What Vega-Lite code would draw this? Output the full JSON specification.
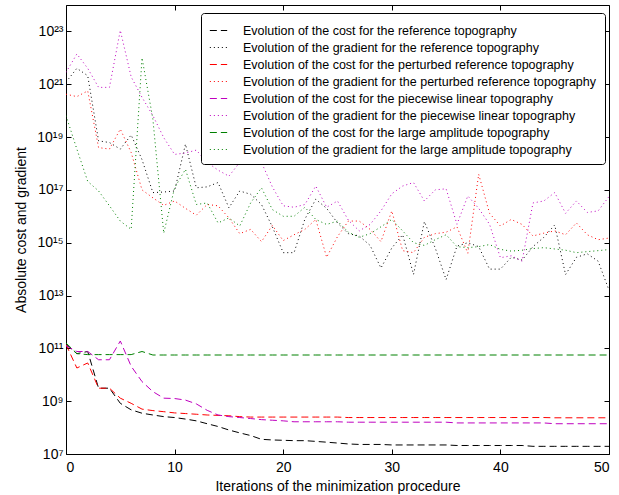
{
"$schema": "https://vega.github.io/schema/vega-lite/v6.json",
"width": 543, "height": 449,
"autosize": "none",
"padding": {"left": 66, "top": 5, "right": 10, "bottom": 41},
"config": {"font": "Liberation Sans", "view": {"stroke": "#000", "strokeWidth": 1},
  "axis": {"grid": false, "domain": false, "tickColor": "#000", "tickSize": -5, "labelColor": "#000", "labelFontSize": 14, "titleFontSize": 14, "titleFontWeight": "normal", "titleColor": "#000", "labelFont": "Liberation Sans", "titleFont": "Liberation Sans"}},
"data": {"values": [
{"i":0,"bc":1.4e11,"bg":1.2e21,"rc":1.4e11,"rg":4.2e20,"mc":1.26e11,"mg":2.8e21,"gc":1.6e11,"gg":6.5e19},
{"i":1,"bc":6.3e10,"bg":4.0e21,"rc":1.8e10,"rg":3.4e20,"mc":7.6e10,"mg":1.4e22,"gc":6.3e10,"gg":3.5e18},
{"i":2,"bc":7.6e10,"bg":2.1e21,"rc":2.8e10,"rg":5.6e20,"mc":7.6e10,"mg":4.0e21,"gc":5.8e10,"gg":2.1e17},
{"i":3,"bc":3.1e9,"bg":7.2e18,"rc":3.1e9,"rg":4.0e18,"mc":3.7e10,"mg":7.6e20,"gc":5.8e10,"gg":9.1e16},
{"i":4,"bc":3.1e9,"bg":6.2e18,"rc":3.1e9,"rg":3.5e18,"mc":3.7e10,"mg":7.6e20,"gc":5.8e10,"gg":2.5e16},
{"i":5,"bc":8.3e8,"bg":3.5e18,"rc":1.3e9,"rg":2.0e19,"mc":1.9e11,"mg":1.1e23,"gc":5.8e10,"gg":6.6e15},
{"i":6,"bc":4.7e8,"bg":1.2e19,"rc":8.3e8,"rg":2.6e18,"mc":2.1e10,"mg":1.9e21,"gc":5.8e10,"gg":3.2e15},
{"i":7,"bc":3.5e8,"bg":1.4e18,"rc":5.0e8,"rg":1.0e17,"mc":5.5e9,"mg":3.2e20,"gc":7.6e10,"gg":1.0e22},
{"i":8,"bc":3.0e8,"bg":7.9e16,"rc":4.4e8,"rg":5.0e16,"mc":2.3e9,"mg":6.5e19,"gc":5.6e10,"gg":4.8e19},
{"i":9,"bc":2.6e8,"bg":8.3e16,"rc":4.0e8,"rg":2.6e16,"mc":1.3e9,"mg":9.5e18,"gc":5.6e10,"gg":2.3e15},
{"i":10,"bc":2.4e8,"bg":9.1e16,"rc":3.6e8,"rg":3.8e16,"mc":1.26e9,"mg":2.2e18,"gc":5.6e10,"gg":1.2e17},
{"i":11,"bc":2.1e8,"bg":5.4e18,"rc":3.4e8,"rg":2.0e16,"mc":1.1e9,"mg":2.5e18,"gc":5.6e10,"gg":6.0e17},
{"i":12,"bc":1.8e8,"bg":1.2e17,"rc":3.2e8,"rg":1.1e16,"mc":7.9e8,"mg":3.2e18,"gc":5.6e10,"gg":2.8e16},
{"i":13,"bc":1.4e8,"bg":1.3e17,"rc":3.0e8,"rg":2.8e16,"mc":4.5e8,"mg":1.1e18,"gc":5.6e10,"gg":3.2e16},
{"i":14,"bc":1.1e8,"bg":1.9e17,"rc":2.9e8,"rg":2.5e16,"mc":3.0e8,"mg":5.6e17,"gc":5.6e10,"gg":5.6e15},
{"i":15,"bc":8.1e7,"bg":2.1e16,"rc":2.8e8,"rg":8.7e15,"mc":2.6e8,"mg":3.3e17,"gc":5.6e10,"gg":8.7e15},
{"i":16,"bc":6.3e7,"bg":9.1e16,"rc":2.6e8,"rg":2.2e15,"mc":2.4e8,"mg":1.1e18,"gc":5.6e10,"gg":4.3e15},
{"i":17,"bc":5.0e7,"bg":6.8e16,"rc":2.5e8,"rg":3.2e15,"mc":2.2e8,"mg":2.0e18,"gc":5.6e10,"gg":3.2e16},
{"i":18,"bc":3.6e7,"bg":2.8e16,"rc":2.5e8,"rg":1.1e15,"mc":2.0e8,"mg":1.1e18,"gc":5.6e10,"gg":1.2e17},
{"i":19,"bc":3.4e7,"bg":4.0e15,"rc":2.5e8,"rg":4.5e15,"mc":1.9e8,"mg":1.3e17,"gc":5.6e10,"gg":1.8e16},
{"i":20,"bc":3.3e7,"bg":4.2e14,"rc":2.5e8,"rg":1.2e15,"mc":1.8e8,"mg":2.5e16,"gc":5.6e10,"gg":1.0e16},
{"i":21,"bc":3.2e7,"bg":4.2e14,"rc":2.5e8,"rg":2.0e15,"mc":1.66e8,"mg":2.2e16,"gc":5.6e10,"gg":1.0e16},
{"i":22,"bc":3.2e7,"bg":7.9e15,"rc":2.5e8,"rg":3.2e15,"mc":1.66e8,"mg":2.8e16,"gc":5.6e10,"gg":2.2e16},
{"i":23,"bc":3.0e7,"bg":4.4e16,"rc":2.5e8,"rg":7.6e15,"mc":1.66e8,"mg":1.4e17,"gc":5.6e10,"gg":7.6e15},
{"i":24,"bc":2.8e7,"bg":2.0e16,"rc":2.5e8,"rg":2.8e14,"mc":1.66e8,"mg":2.2e16,"gc":5.6e10,"gg":4.9e15},
{"i":25,"bc":2.6e7,"bg":5.6e15,"rc":2.5e8,"rg":1.7e15,"mc":1.66e8,"mg":3.8e16,"gc":5.6e10,"gg":6.6e15},
{"i":26,"bc":2.4e7,"bg":2.2e15,"rc":2.4e8,"rg":6.6e15,"mc":1.6e8,"mg":7.1e15,"gc":5.6e10,"gg":2.5e15},
{"i":27,"bc":2.3e7,"bg":1.8e15,"rc":2.4e8,"rg":6.6e15,"mc":1.6e8,"mg":2.8e15,"gc":5.6e10,"gg":1.6e15},
{"i":28,"bc":2.3e7,"bg":7.9e14,"rc":2.4e8,"rg":3.2e15,"mc":1.6e8,"mg":4.9e15,"gc":5.6e10,"gg":2.2e15},
{"i":29,"bc":2.3e7,"bg":1.1e14,"rc":2.4e8,"rg":1.1e15,"mc":1.6e8,"mg":1.6e16,"gc":5.6e10,"gg":4.0e15},
{"i":30,"bc":2.2e7,"bg":6.3e14,"rc":2.4e8,"rg":1.6e16,"mc":1.6e8,"mg":7.1e16,"gc":5.6e10,"gg":7.6e15},
{"i":31,"bc":2.2e7,"bg":2.0e15,"rc":2.4e8,"rg":5.0e14,"mc":1.6e8,"mg":1.4e17,"gc":5.6e10,"gg":2.8e15},
{"i":32,"bc":2.2e7,"bg":6.3e13,"rc":2.4e8,"rg":4.2e14,"mc":1.6e8,"mg":1.9e17,"gc":5.6e10,"gg":1.0e15},
{"i":33,"bc":2.2e7,"bg":6.3e15,"rc":2.4e8,"rg":1.6e15,"mc":1.6e8,"mg":3.8e16,"gc":5.6e10,"gg":7.9e14},
{"i":34,"bc":2.2e7,"bg":6.3e14,"rc":2.4e8,"rg":2.2e15,"mc":1.6e8,"mg":1.0e17,"gc":5.6e10,"gg":1.3e15},
{"i":35,"bc":2.2e7,"bg":4.0e13,"rc":2.4e8,"rg":2.5e15,"mc":1.6e8,"mg":1.1e17,"gc":5.6e10,"gg":2.0e15},
{"i":36,"bc":2.1e7,"bg":7.4e14,"rc":2.4e8,"rg":4.0e15,"mc":1.5e8,"mg":5.0e15,"gc":5.6e10,"gg":7.1e14},
{"i":37,"bc":2.1e7,"bg":1.0e15,"rc":2.4e8,"rg":4.0e14,"mc":1.5e8,"mg":5.9e16,"gc":5.6e10,"gg":6.5e14},
{"i":38,"bc":2.1e7,"bg":7.1e14,"rc":2.4e8,"rg":3.9e17,"mc":1.5e8,"mg":2.0e16,"gc":5.6e10,"gg":7.1e14},
{"i":39,"bc":2.1e7,"bg":1.0e14,"rc":2.4e8,"rg":1.3e16,"mc":1.5e8,"mg":5.0e15,"gc":5.6e10,"gg":8.5e14},
{"i":40,"bc":2.1e7,"bg":1.0e14,"rc":2.4e8,"rg":4.3e15,"mc":1.5e8,"mg":2.7e14,"gc":5.6e10,"gg":5.6e14},
{"i":41,"bc":2.1e7,"bg":2.8e14,"rc":2.4e8,"rg":7.6e15,"mc":1.5e8,"mg":3.2e14,"gc":5.6e10,"gg":4.8e14},
{"i":42,"bc":2.1e7,"bg":2.2e14,"rc":2.4e8,"rg":4.9e15,"mc":1.5e8,"mg":2.0e14,"gc":5.6e10,"gg":5.2e14},
{"i":43,"bc":1.95e7,"bg":7.1e14,"rc":2.4e8,"rg":1.8e15,"mc":1.5e8,"mg":3.2e16,"gc":5.6e10,"gg":6.0e14},
{"i":44,"bc":1.95e7,"bg":1.6e15,"rc":2.4e8,"rg":2.3e15,"mc":1.5e8,"mg":3.8e16,"gc":5.6e10,"gg":6.5e14},
{"i":45,"bc":1.95e7,"bg":4.7e15,"rc":2.35e8,"rg":2.8e15,"mc":1.4e8,"mg":7.9e16,"gc":5.6e10,"gg":5.8e14},
{"i":46,"bc":1.95e7,"bg":6.2e13,"rc":2.35e8,"rg":2.0e15,"mc":1.4e8,"mg":1.3e16,"gc":5.6e10,"gg":5.2e14},
{"i":47,"bc":1.95e7,"bg":2.8e14,"rc":2.35e8,"rg":5.6e15,"mc":1.4e8,"mg":3.8e16,"gc":5.6e10,"gg":4.2e14},
{"i":48,"bc":1.95e7,"bg":3.8e14,"rc":2.35e8,"rg":2.0e15,"mc":1.4e8,"mg":1.4e16,"gc":5.6e10,"gg":4.6e14},
{"i":49,"bc":1.95e7,"bg":2.0e14,"rc":2.35e8,"rg":1.3e15,"mc":1.4e8,"mg":1.6e16,"gc":5.6e10,"gg":5.0e14},
{"i":50,"bc":1.95e7,"bg":1.6e13,"rc":2.35e8,"rg":1.5e15,"mc":1.4e8,"mg":5.6e16,"gc":5.6e10,"gg":5.5e14}
]},
"transform": [{"fold": ["bc","bg","rc","rg","mc","mg","gc","gg"], "as": ["s","v"]}],
"layer": [
 {"mark": {"type": "line", "strokeWidth": 1, "clip": true},
  "encoding": {
   "x": {"field": "i", "type": "quantitative", "scale": {"domain": [0,50], "nice": false},
     "axis": {"orient": "bottom", "values": [0,10,20,30,40,50], "title": "Iterations of the minimization procedure", "labelPadding": 11, "titlePadding": 5}},
   "y": {"field": "v", "type": "quantitative", "scale": {"type": "log", "domain": [1e7,1e24], "nice": false},
     "axis": {"orient": "left", "values": [1e7,1e9,1e11,1e13,1e15,1e17,1e19,1e21,1e23], "title": "Absolute cost and gradient", "labelPadding": 8, "titlePadding": 8,
       "labelExpr": "'10' + (round(log(datum.value)/LN10) >= 10 ? substring('⁰¹²³⁴⁵⁶⁷⁸⁹', floor(round(log(datum.value)/LN10)/10), floor(round(log(datum.value)/LN10)/10)+1) : '') + substring('⁰¹²³⁴⁵⁶⁷⁸⁹', round(log(datum.value)/LN10)%10, round(log(datum.value)/LN10)%10+1)"}},
   "color": {"field": "s", "type": "nominal",
     "scale": {"domain": ["bc","bg","rc","rg","mc","mg","gc","gg"], "range": ["#000000","#000000","#ff0000","#ff0000","#bf00bf","#bf00bf","#008000","#008000"]},
     "legend": {"title": null, "orient": "none", "legendX": 135, "legendY": 8, "symbolType": "stroke", "symbolSize": 300, "symbolStrokeWidth": 1.2, "labelFontSize": 12.5, "labelFont": "Liberation Sans", "labelColor": "#000", "strokeColor": "#000", "fillColor": "#fff", "padding": 8, "cornerRadius": 3, "rowPadding": 1, "labelOffset": 15, "labelLimit": 0,
       "labelExpr": "datum.label == 'bc' ? 'Evolution of the cost for the reference topography' : datum.label == 'bg' ? 'Evolution of the gradient for the reference topography' : datum.label == 'rc' ? 'Evolution of the cost for the perturbed reference topography' : datum.label == 'rg' ? 'Evolution of the gradient for the perturbed reference topography' : datum.label == 'mc' ? 'Evolution of the cost for the piecewise linear topography' : datum.label == 'mg' ? 'Evolution of the gradient for the piecewise linear topography' : datum.label == 'gc' ? 'Evolution of the cost for the large amplitude topography' : 'Evolution of the gradient for the large amplitude topography'"}},
   "strokeDash": {"field": "s", "type": "nominal",
     "scale": {"domain": ["bc","bg","rc","rg","mc","mg","gc","gg"], "range": [[7,4],[1,3],[7,4],[1,3],[7,4],[1,3],[7,4],[1,3]]},
     "legend": {"title": null, "orient": "none", "legendX": 135, "legendY": 8, "symbolType": "stroke", "symbolSize": 300, "symbolStrokeWidth": 1.2, "labelFontSize": 12.5, "labelFont": "Liberation Sans", "labelColor": "#000", "strokeColor": "#000", "fillColor": "#fff", "padding": 8, "cornerRadius": 3, "rowPadding": 1, "labelOffset": 15, "labelLimit": 0,
       "labelExpr": "datum.label == 'bc' ? 'Evolution of the cost for the reference topography' : datum.label == 'bg' ? 'Evolution of the gradient for the reference topography' : datum.label == 'rc' ? 'Evolution of the cost for the perturbed reference topography' : datum.label == 'rg' ? 'Evolution of the gradient for the perturbed reference topography' : datum.label == 'mc' ? 'Evolution of the cost for the piecewise linear topography' : datum.label == 'mg' ? 'Evolution of the gradient for the piecewise linear topography' : datum.label == 'gc' ? 'Evolution of the cost for the large amplitude topography' : 'Evolution of the gradient for the large amplitude topography'"}}
  }},
 {"mark": {"type": "line", "opacity": 0},
  "encoding": {
   "x": {"field": "i", "type": "quantitative", "scale": {"domain": [0,50], "nice": false},
     "axis": {"orient": "top", "values": [0,10,20,30,40,50], "labels": false, "title": null}},
   "y": {"field": "v", "type": "quantitative", "scale": {"type": "log", "domain": [1e7,1e24], "nice": false},
     "axis": {"orient": "right", "values": [1e7,1e9,1e11,1e13,1e15,1e17,1e19,1e21,1e23], "labels": false, "title": null}},
   "detail": {"field": "s", "type": "nominal"}
  }}
],
"resolve": {"axis": {"x": "independent", "y": "independent"}}
}
